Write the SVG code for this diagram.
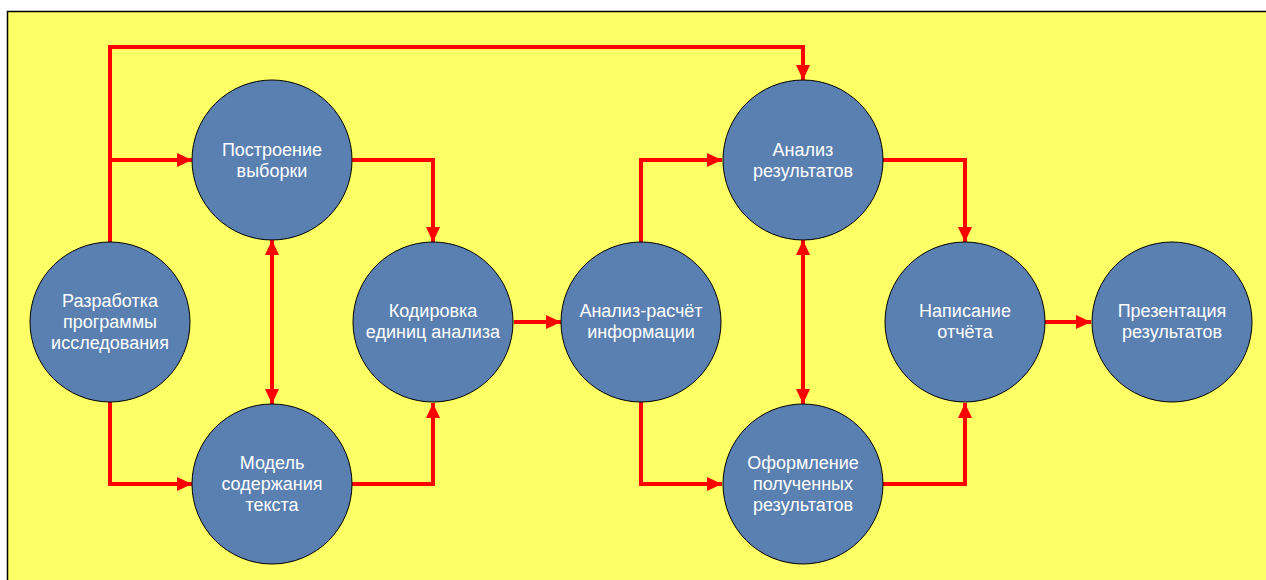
<svg xmlns="http://www.w3.org/2000/svg" width="1266" height="580" viewBox="0 0 1266 580">
<style>
.node circle{fill:#5A7FB1;stroke:#000;stroke-width:1}
.node text{fill:#fff;font-family:"Liberation Sans",Arial,sans-serif;font-size:18px;text-anchor:middle}
.conn path{fill:none;stroke:#FF0000;stroke-width:4;stroke-linejoin:miter}
</style>
<defs>
<marker id="ah" markerUnits="userSpaceOnUse" markerWidth="16" markerHeight="16" refX="15" refY="8" orient="auto-start-reverse" viewBox="0 0 16 16">
<path d="M0,1 L15,8 L0,15 Z" fill="#FF0000"/>
</marker>
</defs>
<rect x="7.5" y="11.5" width="1270" height="580" fill="#FFFF66" stroke="#000" stroke-width="1.5"/>
<g id="connectors" class="conn">
<path d="M110,242 V47 H803 V80" marker-end="url(#ah)"/>
<path d="M110,160 H192" marker-end="url(#ah)"/>
<path d="M110,402 V484 H192" marker-end="url(#ah)"/>
<path d="M272,240 V404" marker-start="url(#ah)" marker-end="url(#ah)"/>
<path d="M352,160 H433 V242" marker-end="url(#ah)"/>
<path d="M352,484 H433 V403" marker-end="url(#ah)"/>
<path d="M514,322 H561" marker-end="url(#ah)"/>
<path d="M641,242 V160 H722" marker-end="url(#ah)"/>
<path d="M641,402 V484 H722" marker-end="url(#ah)"/>
<path d="M803,240 V404" marker-start="url(#ah)" marker-end="url(#ah)"/>
<path d="M883,160 H965 V242" marker-end="url(#ah)"/>
<path d="M883,484 H965 V403" marker-end="url(#ah)"/>
<path d="M1045,322 H1091" marker-end="url(#ah)"/>
</g>
<g id="n1" class="node"><circle cx="110" cy="322" r="80"/><text x="110" y="307">Разработка</text><text x="110" y="328">программы</text><text x="110" y="349">исследования</text></g>
<g id="n2" class="node"><circle cx="272" cy="160" r="80"/><text x="272" y="156">Построение</text><text x="272" y="177">выборки</text></g>
<g id="n3" class="node"><circle cx="272" cy="484" r="80"/><text x="272" y="469">Модель</text><text x="272" y="490">содержания</text><text x="272" y="511">текста</text></g>
<g id="n4" class="node"><circle cx="433" cy="322" r="80"/><text x="433" y="317">Кодировка</text><text x="433" y="338">единиц анализа</text></g>
<g id="n5" class="node"><circle cx="641" cy="322" r="80"/><text x="641" y="317">Анализ-расчёт</text><text x="641" y="338">информации</text></g>
<g id="n6" class="node"><circle cx="803" cy="160" r="80"/><text x="803" y="156">Анализ</text><text x="803" y="177">результатов</text></g>
<g id="n7" class="node"><circle cx="803" cy="484" r="80"/><text x="803" y="469">Оформление</text><text x="803" y="490">полученных</text><text x="803" y="511">результатов</text></g>
<g id="n8" class="node"><circle cx="965" cy="322" r="80"/><text x="965" y="317">Написание</text><text x="965" y="338">отчёта</text></g>
<g id="n9" class="node"><circle cx="1172" cy="322" r="80"/><text x="1172" y="317">Презентация</text><text x="1172" y="338">результатов</text></g>
</svg>
